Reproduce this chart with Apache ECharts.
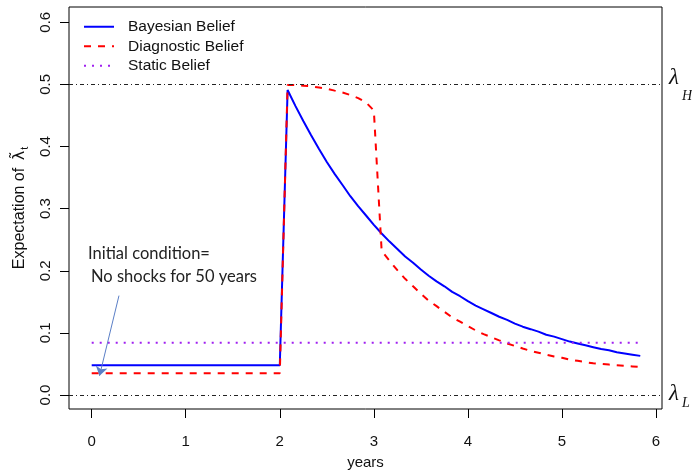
<!DOCTYPE html>
<html>
<head>
<meta charset="utf-8">
<script src="https://cdn.jsdelivr.net/npm/echarts@6/dist/echarts.min.js"></script>
<style>html,body{margin:0;padding:0;background:#fff}#c{width:692px;height:471px}</style>
</head>
<body>
<div id="c"></div>
<script>
// ---- data ----
const years = [0, 2.000, 2.083, 2.167, 2.250, 2.333, 2.417, 2.500, 2.583, 2.667, 2.750, 2.833, 2.917, 3.000,
  3.083, 3.167, 3.250, 3.333, 3.417, 3.500, 3.583, 3.667, 3.750, 3.833, 3.917, 4.000, 4.083, 4.167, 4.250,
  4.333, 4.417, 4.500, 4.583, 4.667, 4.750, 4.833, 4.917, 5.000, 5.083, 5.167, 5.250, 5.333, 5.417, 5.500,
  5.583, 5.667, 5.750, 5.833];
const bayesian = [0.048, 0.048, 0.491, 0.465, 0.441, 0.418, 0.396, 0.375, 0.356, 0.338, 0.320, 0.304, 0.289, 0.274,
  0.260, 0.247, 0.235, 0.223, 0.213, 0.202, 0.192, 0.183, 0.175, 0.166, 0.159, 0.151, 0.144, 0.138, 0.132,
  0.126, 0.121, 0.115, 0.110, 0.106, 0.102, 0.097, 0.094, 0.090, 0.086, 0.083, 0.080, 0.077, 0.074, 0.072,
  0.069, 0.067, 0.065, 0.063];
const diagnostic = [0.035, 0.035, 0.499, 0.499, 0.498, 0.497, 0.495, 0.493, 0.490, 0.487, 0.483, 0.478, 0.471, 0.458,
  0.232, 0.216, 0.201, 0.187, 0.175, 0.163, 0.152, 0.143, 0.134, 0.125, 0.118, 0.111, 0.104, 0.098, 0.093,
  0.088, 0.083, 0.079, 0.075, 0.071, 0.068, 0.065, 0.062, 0.060, 0.057, 0.055, 0.053, 0.051, 0.050, 0.049,
  0.048, 0.047, 0.046, 0.045];
const staticYears = [0, 5.833];
const staticBelief = [0.084, 0.084];
const lambdaLevels = [0.5, 0.0];
const xTicks = [0, 1, 2, 3, 4, 5, 6];
const yTicks = [0, 0.1, 0.2, 0.3, 0.4, 0.5, 0.6];
const seriesNames = ['Bayesian Belief', 'Diagnostic Belief', 'Static Belief'];
const arrowFrom = [0.29, 0.16];
const arrowTo = [0.083, 0.031];

const pair = (xs, ys) => xs.map((x, i) => [x, ys[i]]);
const FONT = '"Liberation Sans", Arial, Helvetica, sans-serif';

const chart = echarts.init(document.getElementById('c'), null, {renderer: 'canvas'});
chart.setOption({
  animation: false,
  backgroundColor: '#fff',
  grid: {left: 69, right: 30, top: 7, bottom: 62, containLabel: false, outerBoundsMode: 'none',
    show: true, borderColor: '#000', borderWidth: 1, backgroundColor: 'transparent'},
  legend: {
    data: seriesNames, orient: 'vertical', left: 83, top: 18, padding: 0,
    itemWidth: 30, itemHeight: 14, itemGap: 2,
    itemStyle: {opacity: 0},
    textStyle: {fontSize: 15.5, lineHeight: 17.5, color: '#111', fontFamily: FONT, padding: [0, 0, 0, 9]},
    selectedMode: false
  },
  xAxis: {
    type: 'value', min: -0.2414, max: 6.064,
    name: 'years', nameLocation: 'middle', nameGap: 46,
    nameTextStyle: {fontSize: 15, color: '#111', fontFamily: FONT},
    axisLine: {show: false, onZero: false},
    axisTick: {show: true, length: 9, customValues: xTicks, lineStyle: {color: '#000', width: 1}},
    axisLabel: {customValues: xTicks, fontSize: 15, color: '#111', fontFamily: FONT, margin: 25},
    splitLine: {show: false}
  },
  yAxis: {
    type: 'value', min: -0.0225, max: 0.6246,
    name: '{n|Expectation of }{l|λ̃}{s|t}', nameLocation: 'middle', nameGap: 39, nameRotate: 90,
    nameTextStyle: {
      fontSize: 16, color: '#111', fontFamily: FONT,
      rich: {
        n: {fontSize: 16, color: '#111', fontFamily: FONT, lineHeight: 20},
        l: {fontSize: 16, color: '#111', fontFamily: '"DejaVu Sans", sans-serif', lineHeight: 20, padding: [0, 0, 0, 3]},
        s: {fontSize: 11, color: '#111', fontFamily: FONT, lineHeight: 20, verticalAlign: 'bottom', padding: [0, 0, 0, 1]}
      }
    },
    axisLine: {show: false, onZero: false},
    axisTick: {show: true, length: 9, customValues: yTicks, lineStyle: {color: '#000', width: 1}},
    axisLabel: {customValues: yTicks, rotate: 90, fontSize: 15, color: '#111', fontFamily: FONT, margin: 16,
      formatter: v => v.toFixed(1)},
    splitLine: {show: false}
  },
  series: [
    {
      name: seriesNames[0], type: 'line', data: pair(years, bayesian), symbol: 'none',
      lineStyle: {color: '#0000FF', width: 2}, itemStyle: {color: '#0000FF'}, silent: true
    },
    {
      name: seriesNames[1], type: 'line', data: pair(years, diagnostic), symbol: 'none',
      lineStyle: {color: '#FF0000', width: 2, type: [7, 7]}, itemStyle: {color: '#FF0000'}, silent: true,
      markLine: {
        silent: true, symbol: 'none', label: {show: false},
        lineStyle: {color: '#222', width: 1, type: [4, 3, 1, 3]},
        data: lambdaLevels.map(v => ({yAxis: v}))
      }
    },
    {
      name: seriesNames[2], type: 'line', data: pair(staticYears, staticBelief), symbol: 'none',
      lineStyle: {color: '#A020F0', width: 2, type: [2, 6]}, itemStyle: {color: '#A020F0'}, silent: true,
      markLine: {
        silent: true, symbol: ['none', 'arrow'], symbolSize: 9, label: {show: false},
        lineStyle: {color: '#5B7FC7', width: 1, type: 'solid'},
        data: [[{coord: arrowFrom}, {coord: arrowTo}]]
      }
    }
  ],
  graphic: [
    {type: 'text', silent: true, style: {x: 88, y: 254, text: 'Initial condition=', font: '16.5px Lato, "Open Sans", sans-serif', fill: '#222', verticalAlign: 'middle', textVerticalAlign: 'middle'}},
    {type: 'text', silent: true, style: {x: 91, y: 277, text: 'No shocks for 50 years', font: '16.5px Lato, "Open Sans", sans-serif', fill: '#222', verticalAlign: 'middle', textVerticalAlign: 'middle'}},
    {type: 'text', silent: true, style: {x: 669, y: 78, text: 'λ', font: 'italic 23px "Liberation Serif", "DejaVu Serif", serif', fill: '#111', verticalAlign: 'middle', textVerticalAlign: 'middle'}},
    {type: 'text', silent: true, style: {x: 682, y: 96, text: 'H', font: 'italic 14px "Liberation Serif", "DejaVu Serif", serif', fill: '#111', verticalAlign: 'middle', textVerticalAlign: 'middle'}},
    {type: 'text', silent: true, style: {x: 669, y: 394, text: 'λ', font: 'italic 23px "Liberation Serif", "DejaVu Serif", serif', fill: '#111', verticalAlign: 'middle', textVerticalAlign: 'middle'}},
    {type: 'text', silent: true, style: {x: 682, y: 403, text: 'L', font: 'italic 14px "Liberation Serif", "DejaVu Serif", serif', fill: '#111', verticalAlign: 'middle', textVerticalAlign: 'middle'}}
  ]
});
</script>
</body>
</html>
